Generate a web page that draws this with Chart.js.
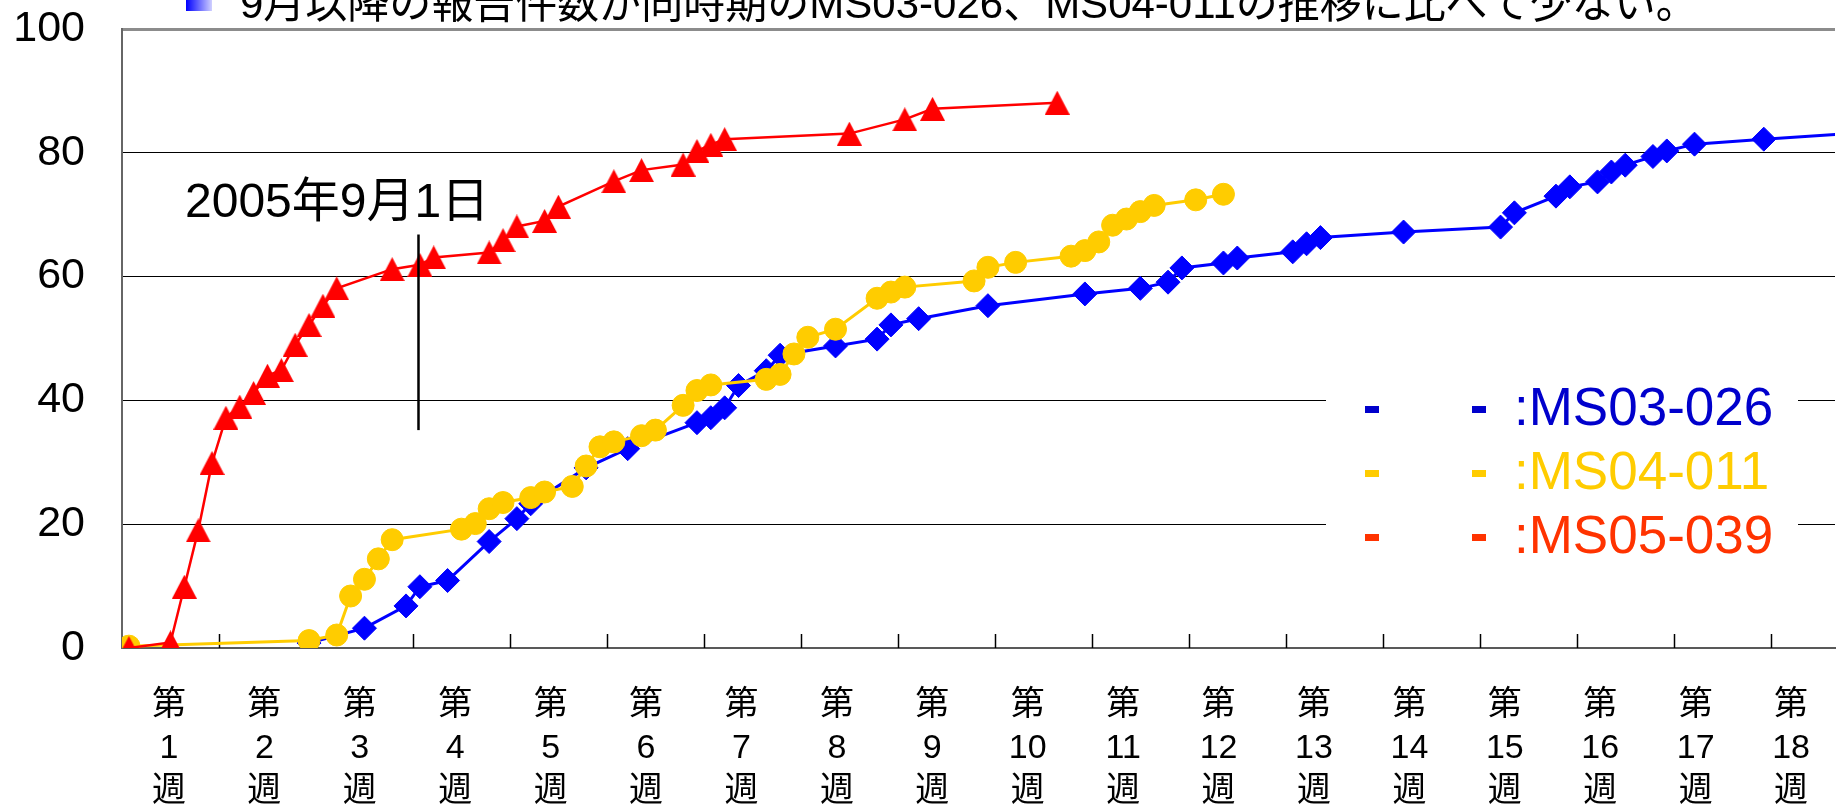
<!DOCTYPE html>
<html lang="ja">
<head>
<meta charset="utf-8">
<title>報告件数の推移</title>
<script src="https://cdn.jsdelivr.net/npm/chart.js@4/dist/chart.umd.min.js"></script>
<style>
  html, body { margin: 0; padding: 0; background: #fff; }
  canvas { display: block; }
</style>
</head>
<body>
<canvas id="chart" width="1848" height="805"></canvas>
<script>
// 公開日からの経過日数と累積値
const ms03Days = [14, 18, 21, 22, 24, 27, 29, 30, 34, 37, 42, 43, 44, 45, 47, 48, 52, 55, 56, 58,
  63, 70, 74, 76, 77, 80, 81, 85, 86, 87, 93, 100, 101, 104, 105, 107, 108, 109, 111, 112, 114, 119, 127];
const ms03Values = [0.8, 3.2, 6.8, 9.9, 10.9, 17.2, 20.9, 23.3, 29.1, 32.2, 36.4, 37.2, 38.8, 42.4, 44.8, 47.3, 48.8, 49.9, 52.2, 53.2,
  55.3, 57.2, 58.1, 59.1, 61.4, 62.2, 63.0, 64.0, 65.3, 66.3, 67.2, 68.0, 70.3, 73.0, 74.5, 75.3, 76.9, 78.0, 79.4, 80.3, 81.4, 82.2, 83.4];

const ms04Days = [1, 14, 16, 17, 18, 19, 20, 25, 26, 27, 28, 30, 31, 33, 34, 35, 36, 38, 39, 41, 42, 43,
  47, 48, 49, 50, 52, 55, 56, 57, 62, 63, 65, 69, 70, 71, 72, 73, 74, 75, 78, 80];
const ms04Values = [0.3, 1.2, 2.1, 8.4, 11.1, 14.4, 17.5, 19.2, 20.1, 22.5, 23.5, 24.3, 25.2, 26.1, 29.4, 32.5, 33.3, 34.3, 35.2, 39.2, 41.6, 42.5,
  43.4, 44.2, 47.5, 50.2, 51.5, 56.5, 57.5, 58.3, 59.3, 61.5, 62.3, 63.3, 64.2, 65.6, 68.3, 69.3, 70.5, 71.5, 72.4, 73.3];

const ms05Days = [1, 4, 5, 6, 7, 8, 9, 10, 11, 12, 13, 14, 15, 16, 20, 22, 23, 27, 28, 29, 31, 32,
  36, 38, 41, 42, 43, 44, 53, 57, 59, 68];
const ms05Values = [0, 0.9, 9.9, 19.0, 29.9, 37.2, 39.0, 41.2, 44.0, 44.9, 49.0, 52.2, 55.3, 58.1, 61.2, 61.9, 63.1, 63.9, 65.9, 68.1, 69.0, 71.3,
  75.4, 77.2, 78.1, 80.3, 81.3, 82.2, 83.1, 85.4, 87.1, 88.1];

const seriesNames = ['MS03-026', 'MS04-011', 'MS05-039'];
const yTicks = [0, 20, 40, 60, 80, 100];
const weeks = [1, 2, 3, 4, 5, 6, 7, 8, 9, 10, 11, 12, 13, 14, 15, 16, 17, 18];
const weekLabels = weeks.map(w => ['第', String(w), '週']);

const titleText = '9月以降の報告件数が同時期のMS03-026、MS04-011の推移に比べて少ない。';
const markerText = '2005年9月1日';
const markerDay = 21.9;
const markerRange = [35.2, 66.8];

const FONT = "'Liberation Sans', 'Noto Sans CJK JP', sans-serif";
const legendColors = ['#0000CC', '#FFCC00', '#FF3300'];

function toPoints(days, values) {
  return days.map((d, i) => ({ x: d, y: values[i] }));
}

// Excel風の三角マーカー（外接矩形の中心がデータ点）
function makeTriangle(color, w, h) {
  const c = document.createElement('canvas');
  c.width = w;
  c.height = h;
  const g = c.getContext('2d');
  g.fillStyle = color;
  g.beginPath();
  g.moveTo(w / 2, 0);
  g.lineTo(w, h);
  g.lineTo(0, h);
  g.closePath();
  g.fill();
  return c;
}

const decor = {
  id: 'decor',
  beforeDatasetsDraw(chart) {
    const { ctx, chartArea, scales: { x } } = chart;
    ctx.save();
    ctx.strokeStyle = '#000';
    ctx.lineWidth = 1.5;
    x.ticks.forEach(t => {
      const px = Math.round(x.getPixelForValue(t.value)) + 0.5;
      ctx.beginPath();
      ctx.moveTo(px, chartArea.bottom);
      ctx.lineTo(px, chartArea.bottom - 14);
      ctx.stroke();
    });
    ctx.restore();
  },
  afterDraw(chart) {
    const { ctx, scales: { x, y } } = chart;
    ctx.save();

    // 見出し
    const grad = ctx.createLinearGradient(186, 0, 212, 0);
    grad.addColorStop(0, '#0000FF');
    grad.addColorStop(1, '#D0D0FF');
    ctx.fillStyle = grad;
    ctx.fillRect(186, -16, 26, 27);
    ctx.fillStyle = '#000';
    ctx.font = '42px ' + FONT;
    ctx.textBaseline = 'alphabetic';
    ctx.fillText(titleText, 240, 18);

    // 2005年9月1日の線
    const mx = x.getPixelForValue(markerDay);
    ctx.strokeStyle = '#000';
    ctx.lineWidth = 2.5;
    ctx.beginPath();
    ctx.moveTo(mx, y.getPixelForValue(markerRange[1]));
    ctx.lineTo(mx, y.getPixelForValue(markerRange[0]));
    ctx.stroke();
    ctx.font = '48px ' + FONT;
    ctx.fillText(markerText, 185, 217);

    // 凡例
    ctx.fillStyle = '#fff';
    ctx.fillRect(1326, 375, 472, 190);
    ctx.font = '53px ' + FONT;
    chart.data.datasets.forEach((ds, i) => {
      const base = 425 + i * 64;
      ctx.fillStyle = legendColors[i];
      ctx.fillRect(1365, base - 19, 14, 7);
      ctx.fillRect(1472, base - 19, 14, 7);
      ctx.fillText(':' + ds.label, 1514, base);
    });
    ctx.restore();
  }
};

new Chart(document.getElementById('chart'), {
  type: 'line',
  data: {
    datasets: [
      {
        label: seriesNames[0],
        data: toPoints(ms03Days, ms03Values),
        borderColor: '#0000FF',
        backgroundColor: '#0000FF',
        borderWidth: 3,
        pointStyle: 'rectRot',
        pointRadius: 12,
        pointBorderWidth: 1,
        order: 2
      },
      {
        label: seriesNames[1],
        data: toPoints(ms04Days, ms04Values),
        borderColor: '#FFCC00',
        backgroundColor: '#FFCC00',
        borderWidth: 3,
        pointStyle: 'circle',
        pointRadius: 11,
        pointBorderWidth: 1,
        order: 1
      },
      {
        label: seriesNames[2],
        data: toPoints(ms05Days, ms05Values),
        borderColor: '#FF0000',
        backgroundColor: '#FF0000',
        borderWidth: 2.5,
        pointStyle: makeTriangle('#FF0000', 25, 24),
        order: 0
      }
    ]
  },
  options: {
    responsive: false,
    animation: false,
    devicePixelRatio: 1,
    layout: { padding: { top: 29, left: 0, right: 0, bottom: 0 } },
    elements: { line: { tension: 0 } },
    scales: {
      x: {
        type: 'linear',
        position: 'bottom',
        min: 0.5,
        max: 124.14,
        afterBuildTicks: (s) => { s.ticks = weeks.slice(0, 17).map(w => ({ value: 0.5 + 7 * w })); },
        ticks: { display: false },
        grid: { display: false },
        border: { display: true, color: '#595959', width: 2 },
        afterFit: (s) => { s.height = 0; }
      },
      weekAxis: {
        type: 'linear',
        position: 'bottom',
        weight: 1,
        min: 0.508,
        max: 18.46,
        afterBuildTicks: (s) => { s.ticks = weeks.map(w => ({ value: w })); },
        ticks: {
          callback: (v) => weekLabels[v - 1],
          font: { family: FONT, size: 34, lineHeight: 1.265 },
          color: '#000',
          padding: 36,
          maxRotation: 0,
          autoSkip: false
        },
        grid: { display: false, drawTicks: false },
        border: { display: false },
        afterFit: (s) => { s.height = 157; }
      },
      y: {
        min: 0,
        max: 100,
        afterBuildTicks: (s) => { s.ticks = yTicks.map(v => ({ value: v })); },
        ticks: {
          font: { family: FONT, size: 43 },
          color: '#000',
          padding: 37
        },
        grid: {
          drawTicks: false,
          color: (c) => c.tick.value === 100 ? '#8c8c8c' : (c.tick.value === 0 ? 'rgba(0,0,0,0)' : '#000'),
          lineWidth: (c) => c.tick.value === 100 ? 3 : 1
        },
        border: { color: '#666', width: 2 },
        afterFit: (s) => {
          s.width = 122;
          s.paddingTop = 0;
          s.paddingBottom = 0;
        }
      }
    },
    plugins: {
      legend: { display: false },
      tooltip: { enabled: false }
    }
  },
  plugins: [decor]
});
</script>
</body>
</html>
